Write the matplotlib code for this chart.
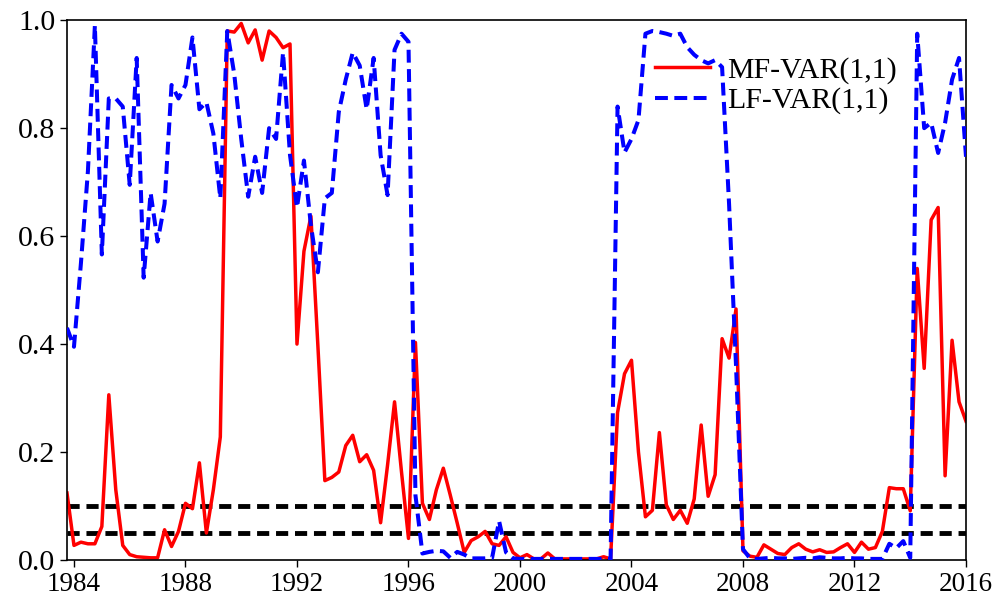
import numpy as np
import matplotlib
matplotlib.use("Agg")
import matplotlib.pyplot as plt

plt.rcParams['font.family'] = ['Liberation Serif', 'DejaVu Serif']

# quarterly observations, 1983Q4 .. 2016Q1
start_year = 1983.75

mf_var = (
    [0.124]                              # 1983
    + [0.027, 0.033, 0.030, 0.030]       # 1984
    + [0.062, 0.306, 0.130, 0.027]       # 1985
    + [0.010, 0.006, 0.005, 0.004]       # 1986
    + [0.004, 0.056, 0.025, 0.053]       # 1987
    + [0.105, 0.095, 0.180, 0.050]       # 1988
    + [0.130, 0.228, 0.980, 0.978]       # 1989
    + [0.994, 0.958, 0.982, 0.926]       # 1990
    + [0.980, 0.968, 0.949, 0.956]       # 1991
    + [0.400, 0.572, 0.637, 0.397]       # 1992
    + [0.147, 0.153, 0.163, 0.212]       # 1993
    + [0.231, 0.182, 0.195, 0.166]       # 1994
    + [0.069, 0.176, 0.293, 0.163]       # 1995
    + [0.040, 0.403, 0.105, 0.075]       # 1996
    + [0.130, 0.170, 0.120, 0.068]       # 1997
    + [0.014, 0.036, 0.043, 0.053]       # 1998
    + [0.030, 0.027, 0.043, 0.014]       # 1999
    + [0.004, 0.010, 0.002, 0.002]       # 2000
    + [0.013, 0.002, 0.002, 0.002]       # 2001
    + [0.002, 0.002, 0.002, 0.002]       # 2002
    + [0.006, 0.002, 0.273, 0.345]       # 2003
    + [0.370, 0.200, 0.080, 0.092]       # 2004
    + [0.236, 0.102, 0.075, 0.092]       # 2005
    + [0.068, 0.113, 0.250, 0.118]       # 2006
    + [0.158, 0.410, 0.374, 0.465]       # 2007
    + [0.017, 0.007, 0.005, 0.028]       # 2008
    + [0.020, 0.012, 0.010, 0.023]       # 2009
    + [0.030, 0.020, 0.015, 0.019]       # 2010
    + [0.014, 0.015, 0.023, 0.030]       # 2011
    + [0.014, 0.033, 0.020, 0.023]       # 2012
    + [0.053, 0.134, 0.132, 0.132]       # 2013
    + [0.091, 0.540, 0.355, 0.630]       # 2014
    + [0.653, 0.156, 0.407, 0.293]       # 2015
    + [0.257]                            # 2016
)

lf_var = (
    [0.430]                              # 1983
    + [0.395, 0.550, 0.720, 0.990]       # 1984
    + [0.566, 0.855, 0.855, 0.840]       # 1985
    + [0.695, 0.930, 0.523, 0.680]       # 1986
    + [0.590, 0.660, 0.880, 0.855]       # 1987
    + [0.880, 0.968, 0.835, 0.848]       # 1988
    + [0.790, 0.670, 0.980, 0.900]       # 1989
    + [0.780, 0.673, 0.747, 0.680]       # 1990
    + [0.800, 0.780, 0.940, 0.750]       # 1991
    + [0.653, 0.740, 0.620, 0.533]       # 1992
    + [0.670, 0.680, 0.830, 0.890]       # 1993
    + [0.940, 0.916, 0.835, 0.930]       # 1994
    + [0.750, 0.676, 0.945, 0.975]       # 1995
    + [0.960, 0.120, 0.012, 0.015]       # 1996
    + [0.017, 0.016, 0.004, 0.015]       # 1997
    + [0.010, 0.003, 0.003, 0.003]       # 1998
    + [0.004, 0.072, 0.014, 0.003]       # 1999
    + [0.002, 0.002, 0.002, 0.002]       # 2000
    + [0.002, 0.002, 0.002, 0.002]       # 2001
    + [0.002, 0.002, 0.002, 0.002]       # 2002
    + [0.002, 0.002, 0.840, 0.755]       # 2003
    + [0.780, 0.815, 0.975, 0.980]       # 2004
    + [0.978, 0.975, 0.971, 0.975]       # 2005
    + [0.950, 0.936, 0.926, 0.920]       # 2006
    + [0.926, 0.913, 0.660, 0.360]       # 2007
    + [0.020, 0.003, 0.002, 0.003]       # 2008
    + [0.004, 0.003, 0.003, 0.002]       # 2009
    + [0.003, 0.004, 0.003, 0.005]       # 2010
    + [0.004, 0.003, 0.003, 0.004]       # 2011
    + [0.003, 0.003, 0.002, 0.002]       # 2012
    + [0.002, 0.030, 0.022, 0.035]       # 2013
    + [0.004, 0.975, 0.800, 0.810]       # 2014
    + [0.754, 0.810, 0.890, 0.930]       # 2015
    + [0.747]                            # 2016
)

thresholds = [0.05, 0.10]
x_ticks = [1984, 1988, 1992, 1996, 2000, 2004, 2008, 2012, 2016]
y_ticks = [0.0, 0.2, 0.4, 0.6, 0.8, 1.0]

dates = start_year + 0.25 * np.arange(len(mf_var))

fig = plt.figure(figsize=(10, 6.12), dpi=100)
ax = fig.add_axes([0.067, 0.085, 0.899, 0.882])

for t in thresholds:
    ax.axhline(t, color='black', lw=3.5, linestyle=(0, (2.5, 1.4)), zorder=1)

ax.plot(dates, mf_var, color='#ff0000', lw=2.5, label='MF-VAR(1,1)', zorder=2)
ax.plot(dates, lf_var, color='#0000ff', lw=2.9, linestyle=(0, (3.2, 1.6)),
        label='LF-VAR(1,1)', zorder=3)

ax.set_xlim(start_year, 2016)
ax.set_ylim(0, 1)
ax.set_xticks(x_ticks)
ax.set_yticks(y_ticks)
ax.set_yticklabels([f'{v:.1f}' for v in y_ticks])
ax.tick_params(length=5, width=1, colors='black')
ax.tick_params(axis='x', labelsize=19.5)
ax.tick_params(axis='y', labelsize=21.5)
for s in ax.spines.values():
    s.set_linewidth(1.2)

ax.legend(loc='upper left', bbox_to_anchor=(0.641, 0.954), frameon=False,
          fontsize=21.5, handlelength=1.85, handletextpad=0.55, labelspacing=0.1,
          borderaxespad=0)

fig.savefig('out.png', dpi=100)
